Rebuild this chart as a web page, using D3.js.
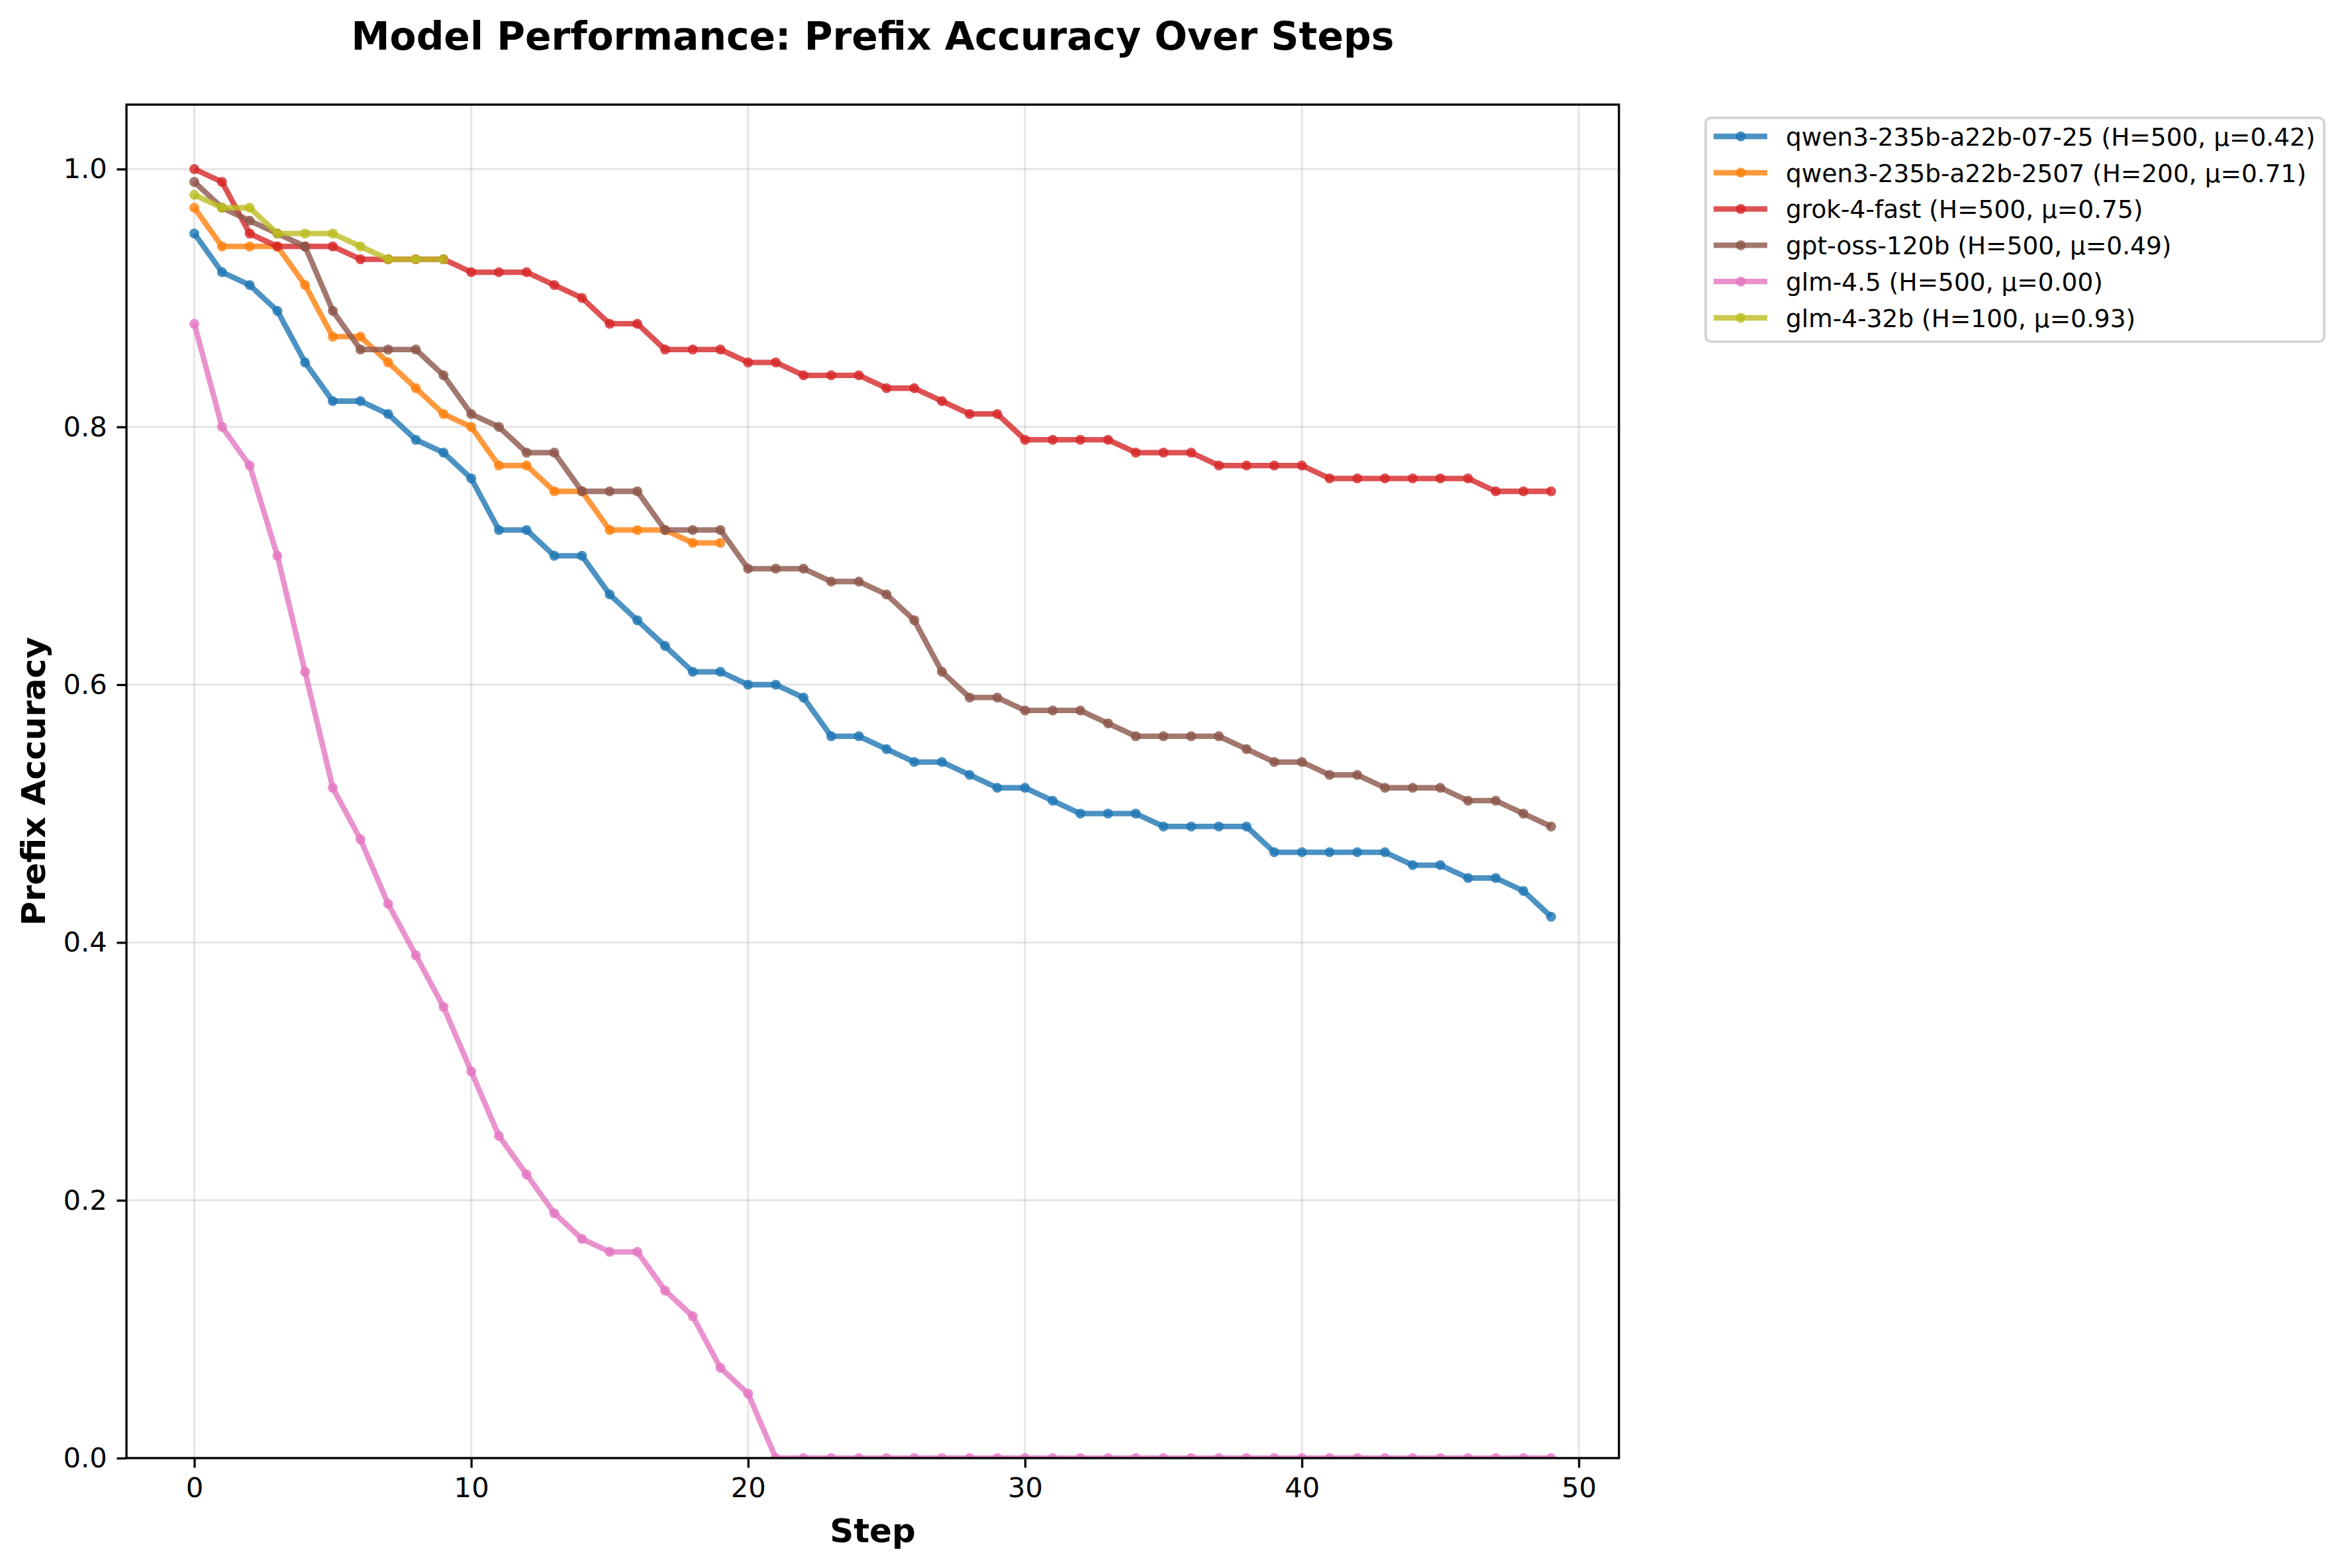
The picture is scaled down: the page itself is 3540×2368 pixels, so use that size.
<!DOCTYPE html>
<html>
<head>
<meta charset="utf-8">
<script src="https://cdn.jsdelivr.net/npm/d3@7"></script>
<style>
  body { margin: 0; background: #fff; }
  text { font-family: "DejaVu Sans", sans-serif; }
</style>
</head>
<body>
<div id="chart"></div>
<script>
const width = 3540;
const height = 2368;
const margin = { top: 158, right: 1095, bottom: 166, left: 191 };
const lineWidth = 8.3;
const markerRadius = 7.5;
const tickLen = 14.6;

// data
const steps = d3.range(50);

const qwen0725 = [0.95, 0.92, 0.91, 0.89, 0.85, 0.82, 0.82, 0.81, 0.79, 0.78,
    0.76, 0.72, 0.72, 0.70, 0.70, 0.67, 0.65, 0.63, 0.61, 0.61,
    0.60, 0.60, 0.59, 0.56, 0.56, 0.55, 0.54, 0.54, 0.53, 0.52,
    0.52, 0.51, 0.50, 0.50, 0.50, 0.49, 0.49, 0.49, 0.49, 0.47,
    0.47, 0.47, 0.47, 0.47, 0.46, 0.46, 0.45, 0.45, 0.44, 0.42];

const qwen2507 = [0.97, 0.94, 0.94, 0.94, 0.91, 0.87, 0.87, 0.85, 0.83, 0.81,
    0.80, 0.77, 0.77, 0.75, 0.75, 0.72, 0.72, 0.72, 0.71, 0.71];

const grokFast = [1.00, 0.99, 0.95, 0.94, 0.94, 0.94, 0.93, 0.93, 0.93, 0.93,
    0.92, 0.92, 0.92, 0.91, 0.90, 0.88, 0.88, 0.86, 0.86, 0.86,
    0.85, 0.85, 0.84, 0.84, 0.84, 0.83, 0.83, 0.82, 0.81, 0.81,
    0.79, 0.79, 0.79, 0.79, 0.78, 0.78, 0.78, 0.77, 0.77, 0.77,
    0.77, 0.76, 0.76, 0.76, 0.76, 0.76, 0.76, 0.75, 0.75, 0.75];

const gptOss = [0.99, 0.97, 0.96, 0.95, 0.94, 0.89, 0.86, 0.86, 0.86, 0.84,
    0.81, 0.80, 0.78, 0.78, 0.75, 0.75, 0.75, 0.72, 0.72, 0.72,
    0.69, 0.69, 0.69, 0.68, 0.68, 0.67, 0.65, 0.61, 0.59, 0.59,
    0.58, 0.58, 0.58, 0.57, 0.56, 0.56, 0.56, 0.56, 0.55, 0.54,
    0.54, 0.53, 0.53, 0.52, 0.52, 0.52, 0.51, 0.51, 0.50, 0.49];

const glm45 = [0.88, 0.80, 0.77, 0.70, 0.61, 0.52, 0.48, 0.43, 0.39, 0.35,
    0.30, 0.25, 0.22, 0.19, 0.17, 0.16, 0.16, 0.13, 0.11, 0.07,
    0.05, 0.00, 0.00, 0.00, 0.00, 0.00, 0.00, 0.00, 0.00, 0.00,
    0.00, 0.00, 0.00, 0.00, 0.00, 0.00, 0.00, 0.00, 0.00, 0.00,
    0.00, 0.00, 0.00, 0.00, 0.00, 0.00, 0.00, 0.00, 0.00, 0.00];

const glm432b = [0.98, 0.97, 0.97, 0.95, 0.95, 0.95, 0.94, 0.93, 0.93, 0.93];

const seriesNames = [
    "qwen3-235b-a22b-07-25 (H=500, \u03bc=0.42)",
    "qwen3-235b-a22b-2507 (H=200, \u03bc=0.71)",
    "grok-4-fast (H=500, \u03bc=0.75)",
    "gpt-oss-120b (H=500, \u03bc=0.49)",
    "glm-4.5 (H=500, \u03bc=0.00)",
    "glm-4-32b (H=100, \u03bc=0.93)"
];
const seriesValues = [qwen0725, qwen2507, grokFast, gptOss, glm45, glm432b];
const seriesColors = ["#1f77b4", "#ff7f0e", "#d62728", "#8c564b", "#e377c2", "#bcbd22"];

const xTicks = [0, 10, 20, 30, 40, 50];
const yTicks = [0, 0.2, 0.4, 0.6, 0.8, 1.0];

const series = seriesValues.map((vals, i) => ({
    name: seriesNames[i],
    color: seriesColors[i],
    points: vals.map((v, j) => ({ step: steps[j], value: v }))
}));

const plotW = width - margin.left - margin.right;
const plotH = height - margin.top - margin.bottom;

const x = d3.scaleLinear().domain([-2.45, 51.45]).range([0, plotW]);
const y = d3.scaleLinear().domain([0, 1.05]).range([plotH, 0]);

const svg = d3.select("#chart")
    .append("svg")
        .attr("width", width)
        .attr("height", height)
        .attr("viewBox", [0, 0, width, height]);

svg.append("rect").attr("width", width).attr("height", height).attr("fill", "#fff");

svg.append("defs").append("clipPath")
    .attr("id", "plot-clip")
    .append("rect")
        .attr("width", plotW)
        .attr("height", plotH);

const g = svg.append("g").attr("transform", `translate(${margin.left},${margin.top})`);

// grid
const grid = g.append("g")
    .attr("stroke", "#b0b0b0")
    .attr("stroke-opacity", 0.3)
    .attr("stroke-width", 3.3);
grid.selectAll(".gx").data(xTicks).enter().append("line")
    .attr("x1", d => x(d)).attr("x2", d => x(d))
    .attr("y1", 0).attr("y2", plotH);
grid.selectAll(".gy").data(yTicks).enter().append("line")
    .attr("y1", d => y(d)).attr("y2", d => y(d))
    .attr("x1", 0).attr("x2", plotW);

// lines + markers
const line = d3.line().x(d => x(d.step)).y(d => y(d.value));
const plot = g.append("g").attr("clip-path", "url(#plot-clip)");

series.forEach(s => {
    const sg = plot.append("g");
    sg.append("path")
        .datum(s.points)
        .attr("d", line)
        .attr("fill", "none")
        .attr("stroke", s.color)
        .attr("stroke-opacity", 0.8)
        .attr("stroke-width", lineWidth)
        .attr("stroke-linejoin", "round")
        .attr("stroke-linecap", "butt");
    sg.selectAll("circle")
        .data(s.points)
        .enter().append("circle")
            .attr("cx", d => x(d.step))
            .attr("cy", d => y(d.value))
            .attr("r", markerRadius)
            .attr("fill", s.color)
            .attr("fill-opacity", 0.8);
});

// axes
const xAxis = g.append("g")
    .attr("transform", `translate(0,${plotH})`)
    .call(d3.axisBottom(x).tickValues(xTicks).tickFormat(d3.format("d"))
        .tickSize(tickLen).tickSizeOuter(0).tickPadding(tickLen));
const yAxis = g.append("g")
    .call(d3.axisLeft(y).tickValues(yTicks).tickFormat(d3.format(".1f"))
        .tickSize(tickLen).tickSizeOuter(0).tickPadding(tickLen));

[xAxis, yAxis].forEach(ax => {
    ax.select(".domain").remove();
    ax.selectAll(".tick line").attr("stroke", "#000").attr("stroke-width", 3.3);
    ax.selectAll(".tick text")
        .attr("font-family", "DejaVu Sans")
        .attr("font-size", 41.7)
        .attr("fill", "#000");
});

// spines
g.append("rect")
    .attr("width", plotW)
    .attr("height", plotH)
    .attr("fill", "none")
    .attr("stroke", "#000")
    .attr("stroke-width", 3.3);

// title and axis labels
svg.append("text")
    .attr("x", margin.left + plotW / 2)
    .attr("y", 75)
    .attr("text-anchor", "middle")
    .attr("font-size", 58.3)
    .attr("font-weight", "bold")
    .text("Model Performance: Prefix Accuracy Over Steps");

svg.append("text")
    .attr("x", margin.left + plotW / 2)
    .attr("y", 2329)
    .attr("text-anchor", "middle")
    .attr("font-size", 50)
    .attr("font-weight", "bold")
    .text("Step");

svg.append("text")
    .attr("transform", `translate(68,${margin.top + plotH / 2}) rotate(-90)`)
    .attr("text-anchor", "middle")
    .attr("font-size", 50)
    .attr("font-weight", "bold")
    .text("Prefix Accuracy");

// legend
const legend = svg.append("g").attr("transform", "translate(2576,178)");
legend.append("rect")
    .attr("width", 934)
    .attr("height", 338)
    .attr("rx", 8)
    .attr("fill", "#fff")
    .attr("fill-opacity", 0.8)
    .attr("stroke", "#cccccc")
    .attr("stroke-opacity", 0.8)
    .attr("stroke-width", 4);

const rowH = 54.8;
const item = legend.selectAll(".item")
    .data(series)
    .enter().append("g")
        .attr("class", "item")
        .attr("transform", (d, i) => `translate(0,${28 + i * rowH})`);

item.append("line")
    .attr("x1", 12).attr("x2", 93)
    .attr("stroke", d => d.color)
    .attr("stroke-opacity", 0.8)
    .attr("stroke-width", lineWidth);
item.append("circle")
    .attr("cx", 53)
    .attr("r", markerRadius)
    .attr("fill", d => d.color)
    .attr("fill-opacity", 0.8);
item.append("text")
    .attr("x", 121)
    .attr("dy", "0.37em")
    .attr("font-size", 37.5)
    .attr("fill", "#000")
    .text(d => d.name);
</script>
</body>
</html>
